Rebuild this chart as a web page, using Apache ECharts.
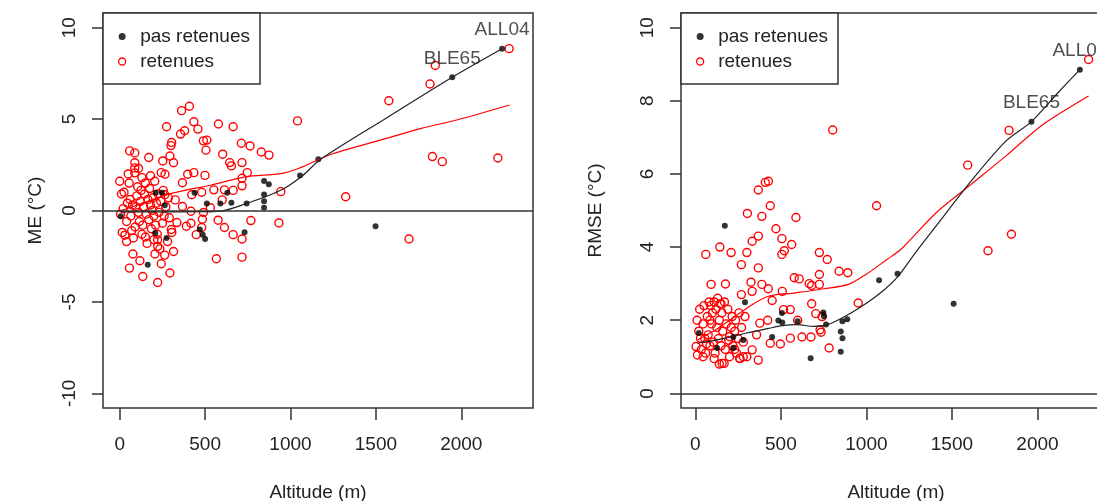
<!DOCTYPE html>
<html><head><meta charset="utf-8">
<script src="https://cdn.jsdelivr.net/npm/echarts@6/dist/echarts.min.js"></script>
<style>html,body{margin:0;padding:0;background:#fff}#c{width:1097px;height:501px}</style>
</head><body><div id="c"></div>
<script>
// ---------- DATA ----------
const xTicks = [0, 500, 1000, 1500, 2000];
const yTicksME = [-10, -5, 0, 5, 10];
const yTicksRMSE = [0, 2, 4, 6, 8, 10];
const seriesNames = ['pas retenues', 'retenues'];
const xTitle = 'Altitude (m)';
const yTitleME = 'ME (°C)';
const yTitleRMSE = 'RMSE (°C)';

// ME panel: black points (pas retenues)
const meBlack = [[6,-0.31],[164,-2.97],[208,-1.23],[211,0.97],[247,0.97],[264,0.29],[274,-1.5],[438,0.97],[469,-1.04],[486,-1.32],[500,-1.56],[510,0.38],[589,0.38],[630,0.97],[654,0.42],[731,-1.19],[743,0.38],[845,1.61],[873,1.44],[845,0.88],[845,0.51],[845,0.15],[1056,1.92],[1163,2.8],[1498,-0.86],[1947,7.29],[2239,8.85]];
const meBlackLabels = {25:'BLE65', 26:'ALL04'};
// ME panel: red circles (retenues)
const meRed = [[2280,8.85],[1848,7.93],[1817,6.92],[1576,6.0],[1041,4.9],[1831,2.95],[1889,2.67],[2214,2.87],[1323,0.75],[1694,-1.56],
[408,5.7],[362,5.46],[274,4.58],[434,4.85],[458,4.45],[578,4.73],[664,4.58],[380,4.36],[356,4.18],[304,3.72],[300,3.55],[490,3.81],[510,3.85],[505,3.3],[603,3.08],[712,3.68],[763,3.53],[829,3.2],[874,3.03],[644,2.62],[654,2.44],[716,2.62],[170,2.9],[58,3.26],[88,3.15],[88,2.61],[88,2.33],[88,2.06],[252,2.71],[294,2.98],[315,2.61],[243,2.07],[265,1.98],[367,1.52],[398,1.98],[434,2.07],[499,1.92],[747,2.07],[716,1.76],[716,1.35],[943,1.03],[551,1.13],[613,1.13],[664,1.1],[600,0.58],[480,1.0],[422,0.86],[264,0.86],[325,0.58],[367,0.22],[417,-0.04],[531,0.15],[490,-0.11],[576,-0.53],[417,-0.7],[390,-0.86],[335,-0.66],[302,-1.04],[305,-1.2],[480,-0.93],[484,-0.48],[768,-0.55],[932,-0.68],[664,-1.32],[716,-1.56],[613,-0.93],[448,-1.32],[222,-1.6],[222,-1.96],
[57,-3.15],[135,-3.61],[222,-3.94],[294,-3.42],[243,-2.91],[118,-2.75],[77,-2.38],[206,-2.38],[263,-2.44],[315,-2.24],[566,-2.64],[716,-2.55],
[0,1.6],[10,0.9],[20,0.1],[5,-0.2],[15,-1.2],[30,-1.35],[40,-0.6],[45,0.4],[25,1.0],[55,1.5],[60,0.6],[65,-0.3],[70,-1.1],[80,-1.5],[90,-0.9],[95,0.2],[100,0.8],[105,1.3],[110,-0.1],[115,-0.6],[120,0.5],[125,1.1],[130,-1.3],[135,-0.8],[140,0.2],[145,0.9],[150,1.5],[155,-0.2],[160,-1.8],[165,0.6],[170,-0.5],[175,1.2],[180,0.3],[185,-1.0],[190,0.0],[195,0.7],[200,-0.3],[205,1.6],[210,-0.8],[215,0.4],[220,-1.3],[225,0.9],[230,-0.1],[235,-2.1],[240,0.5],[250,-0.7],[255,1.1],[260,-0.3],[270,0.2],[280,-1.7],[285,0.7],[290,-0.4],[40,-1.7],[75,0.3],[150,-1.45],[200,-1.6],[130,1.8],[180,1.9],[50,2.0],[110,2.3]];
// ME panel smoothed curves
const meBlackCurve = [[6,-0.07],[325,-0.07],[576,-0.05],[742,0.38],[946,1.12],[1070,1.9],[1173,2.78],[1560,5.05],[1947,7.29],[2239,8.85]];
const meRedCurve = [[6,-0.02],[164,0.5],[264,0.83],[367,1.07],[531,1.38],[736,1.84],[943,2.02],[1046,2.3],[1252,3.12],[1561,3.94],[1767,4.49],[1973,4.95],[2283,5.77]];

// RMSE panel
const rmseBlack = [[20,1.65],[127,1.24],[172,4.58],[222,1.54],[222,1.24],[280,1.46],[290,2.49],[449,1.54],[485,1.99],[508,1.94],[506,2.2],[598,1.97],[674,0.96],[748,2.21],[752,2.11],[764,1.88],[850,1.69],[860,1.51],[850,1.14],[860,1.97],[888,2.03],[1074,3.09],[1182,3.27],[1510,2.45],[1965,7.43],[2248,8.85]];
const rmseBlackLabels = {24:'BLE65', 25:'ALL04'};
const rmseRed = [[2299,9.13],[1834,7.19],[1592,6.24],[803,7.2],[1059,5.13],[1848,4.35],[1711,3.9],
[368,5.56],[409,5.77],[427,5.8],[304,4.92],[389,4.84],[438,5.13],[588,4.81],[471,4.5],[368,4.3],[332,4.16],[506,4.23],[563,4.07],[143,4.0],
[61,3.8],[209,3.85],[269,3.52],[301,3.85],[368,3.43],[506,3.8],[520,3.9],[725,3.85],[771,3.66],[725,3.25],[578,3.16],[607,3.13],[666,3.0],[680,2.95],[725,2.98],[840,3.34],[891,3.3],[952,2.47],[92,2.98],[176,2.99],[325,3.04],[389,2.98],[426,2.86],[508,2.79],[332,2.79],[269,2.7],[449,2.54],[516,2.29],[555,2.29],[680,2.45],[704,2.18],[741,2.1],[598,2.0],[423,2.0],[377,1.92],[358,1.6],[332,1.19],[301,1.0],[368,0.91],[260,0.96],[438,1.37],[497,1.35],[555,1.51],[623,1.54],[676,1.54],[729,1.74],[735,1.67],[782,1.24],[168,0.82],[156,0.82],[12,1.05],[4,1.28],[30,1.51],
[10,2.0],[20,1.7],[25,2.3],[35,1.2],[45,1.9],[50,2.4],[55,1.5],[60,1.1],[70,2.1],[75,1.6],[80,2.5],[85,1.3],[90,2.4],[95,1.9],[100,2.2],[105,1.4],[110,2.5],[115,1.1],[120,2.3],[125,1.8],[130,2.6],[135,1.5],[140,2.0],[145,2.45],[150,1.3],[155,2.2],[160,1.7],[170,2.5],[175,1.2],[180,1.9],[190,2.3],[195,1.45],[200,1.0],[210,1.8],[215,2.1],[220,1.3],[230,1.7],[235,2.0],[240,1.1],[250,1.5],[255,2.2],[260,0.95],[270,1.8],[280,1.4],[290,2.1],[45,1.0],[65,1.35],[140,0.8],[110,0.95],[200,1.55],[85,2.0],[150,2.45],[230,1.2],[280,1.0]];
const rmseBlackCurve = [[12,1.37],[176,1.51],[301,1.65],[423,1.77],[508,1.85],[590,1.88],[693,1.83],[775,1.88],[857,2.06],[960,2.34],[1083,2.75],[1185,3.2],[1287,3.85],[1408,4.58],[1613,5.81],[1818,6.91],[1965,7.43],[2124,8.24],[2248,8.85]];
const rmseRedCurve = [[12,1.46],[135,1.79],[301,2.33],[423,2.65],[588,2.75],[752,2.86],[895,2.98],[997,3.25],[1120,3.66],[1202,3.94],[1408,4.94],[1613,5.72],[1818,6.5],[2023,7.32],[2299,8.13]];

// ---------- CHART ----------
const FONT = 'Liberation Sans, Arial, sans-serif';
const TXT = '#222';
const LINE = '#333';

function xAxisFor(gi, min, max) {
  return {
    type: 'value', gridIndex: gi, min: min, max: max,
    axisLine: {show: false, onZero: false}, splitLine: {show: false},
    axisTick: {show: true, customValues: xTicks, length: 12, lineStyle: {color: LINE, width: 1.5}},
    axisLabel: {customValues: xTicks, formatter: v => String(v), fontSize: 19, color: TXT, fontFamily: FONT, margin: 27},
    name: xTitle, nameLocation: 'middle', nameGap: 75,
    nameTextStyle: {fontSize: 19, color: TXT, fontFamily: FONT}
  };
}
function yAxisFor(gi, min, max, ticks, title, gap) {
  return {
    type: 'value', gridIndex: gi, min: min, max: max,
    axisLine: {show: false, onZero: false}, splitLine: {show: false},
    axisTick: {show: true, customValues: ticks, length: 11, lineStyle: {color: LINE, width: 1.5}},
    axisLabel: {customValues: ticks, formatter: v => String(v), fontSize: 19, color: TXT, fontFamily: FONT, rotate: 90, margin: 24},
    name: title, nameLocation: 'middle', nameGap: gap, nameRotate: 90,
    nameTextStyle: {fontSize: 19, color: TXT, fontFamily: FONT}
  };
}
function blackData(arr, labels) {
  return arr.map((p, i) => labels[i] ? {value: p, name: labels[i], label: {show: true}} : {value: p});
}
function panelSeries(ai, black, labels, red, bCurve, rCurve) {
  return [
    {type: 'scatter', name: seriesNames[1], xAxisIndex: ai, yAxisIndex: ai, data: red,
     symbol: 'circle', symbolSize: 8, itemStyle: {color: 'rgba(255,255,255,0)', borderColor: '#ff0000', borderWidth: 1.4, opacity: 1}, z: 2},
    {type: 'scatter', name: seriesNames[0], xAxisIndex: ai, yAxisIndex: ai, data: blackData(black, labels),
     symbol: 'circle', symbolSize: 6, itemStyle: {color: '#000'}, z: 3,
     label: {show: false, position: 'top', distance: 6, formatter: '{b}', fontSize: 19, color: TXT, fontFamily: FONT}},
    {type: 'line', name: 'loess retenues', xAxisIndex: ai, yAxisIndex: ai, data: rCurve, showSymbol: false, smooth: 0.3,
     lineStyle: {color: '#ff0000', width: 1.2}, z: 4, silent: true},
    {type: 'line', name: 'loess pas retenues', xAxisIndex: ai, yAxisIndex: ai, data: bCurve, showSymbol: false, smooth: 0.3,
     lineStyle: {color: '#222', width: 1.2}, z: 4, silent: true,
     markLine: {silent: true, symbol: 'none', label: {show: false}, lineStyle: {color: LINE, width: 1.5, type: 'solid'}, data: [{yAxis: 0}]}}
  ];
}
function legendFor(left) {
  return {
    left: left, top: 13, orient: 'vertical', itemGap: 6, itemWidth: 26, itemHeight: 7,
    padding: [14, 10, 13, 15], borderColor: LINE, borderWidth: 1.5, backgroundColor: '#fff',
    textStyle: {fontSize: 19, color: TXT, fontFamily: FONT}, selectedMode: false,
    data: [
      {name: seriesNames[0], icon: 'circle', itemStyle: {color: '#000'}},
      {name: seriesNames[1], icon: 'circle', itemStyle: {color: 'rgba(255,255,255,0)', borderColor: '#ff0000', borderWidth: 1.3}}
    ]
  };
}

const chart = echarts.init(document.getElementById('c'), null, {renderer: 'canvas'});
chart.setOption({
  animation: false,
  backgroundColor: '#fff',
  grid: [
    {left: 103, top: 13, width: 430, height: 395, outerBoundsMode: 'none', containLabel: false, show: true, borderColor: LINE, borderWidth: 1.5, backgroundColor: 'transparent'},
    {left: 681, top: 13, width: 430, height: 395, outerBoundsMode: 'none', containLabel: false, show: true, borderColor: LINE, borderWidth: 1.5, backgroundColor: 'transparent'}
  ],
  xAxis: [xAxisFor(0, -98, 2420), xAxisFor(1, -84, 2430)],
  yAxis: [yAxisFor(0, -10.8, 10.8, yTicksME, yTitleME, 58), yAxisFor(1, -0.4, 10.4, yTicksRMSE, yTitleRMSE, 76)],
  legend: [legendFor(103), legendFor(681)],
  series: [].concat(
    panelSeries(0, meBlack, meBlackLabels, meRed, meBlackCurve, meRedCurve),
    panelSeries(1, rmseBlack, rmseBlackLabels, rmseRed, rmseBlackCurve, rmseRedCurve)
  )
});
</script></body></html>
